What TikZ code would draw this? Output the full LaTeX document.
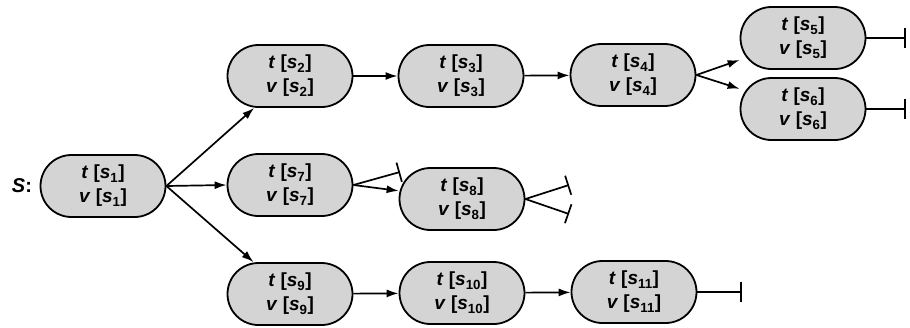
\documentclass[tikz,border=0pt]{standalone}
\usepackage{fontspec}
\setmainfont{Liberation Sans}
\usetikzlibrary{arrows.meta}
% one line of a state: letter [s_i]
\newcommand\stlab[2]{\textit{#1} [\textit{s}\textsubscript{#2}]}
% the two lines of a state node
\newcommand\stnode[1]{\stlab{t}{#1}\\\stlab{v}{#1}}
\begin{document}
\begin{tikzpicture}[x=1pt,y=-1pt,
  state/.style={draw, line width=1.8pt, fill=black!17, rounded corners=31pt,
    minimum width=125pt, minimum height=62pt, inner sep=0pt, align=center,
    font=\fontsize{19}{24}\selectfont\bfseries},
  conn/.style={line width=1.7pt, -{Latex[length=12pt,width=8pt]}},
  stopline/.style={line width=1.7pt, -{Bar[width=20pt,line width=1.7pt]}}]
\useasboundingbox (0,0) rectangle (910,327);

\node[font=\fontsize{20}{24}\selectfont\bfseries] (lbl) at (22,186) {\textit{S}:};

\node[state] (s1)  at (103,186) {\stnode{1}};
\node[state] (s2)  at (290,76)  {\stnode{2}};
\node[state] (s3)  at (461,76)  {\stnode{3}};
\node[state] (s4)  at (633,75)  {\stnode{4}};
\node[state] (s5)  at (803,38)  {\stnode{5}};
\node[state] (s6)  at (803,109) {\stnode{6}};
\node[state] (s7)  at (290,185) {\stnode{7}};
\node[state] (s8)  at (462,199) {\stnode{8}};
\node[state] (s9)  at (290,294) {\stnode{9}};
\node[state] (s10) at (462,293) {\stnode{10}};
\node[state] (s11) at (634,292) {\stnode{11}};

% free ends of the blocked branches
\coordinate (e5)  at (906,38);
\coordinate (e6)  at (906,109);
\coordinate (e7)  at (400,172);
\coordinate (e8a) at (569,185);
\coordinate (e8b) at (569,214);
\coordinate (e11) at (742,292);

\draw[conn] (s1.east) -- (s2);
\draw[conn] (s1.east) -- (s7.west);
\draw[conn] (s1.east) -- (s9);
\draw[conn] (s2) -- (s3);
\draw[conn] (s3) -- (s4);
\draw[conn] (s4.east) -- (s5);
\draw[conn] (s4.east) -- (s6);
\draw[conn] (s7.east) -- (s8);
\draw[conn] (s9) -- (s10);
\draw[conn] (s10) -- (s11);

\draw[stopline] (s5.east) -- (e5);
\draw[stopline] (s6.east) -- (e6);
\draw[stopline] (s7.east) -- (e7);
\draw[stopline] (s8.east) -- (e8a);
\draw[stopline] (s8.east) -- (e8b);
\draw[stopline] (s11.east) -- (e11);
\end{tikzpicture}
\end{document}
